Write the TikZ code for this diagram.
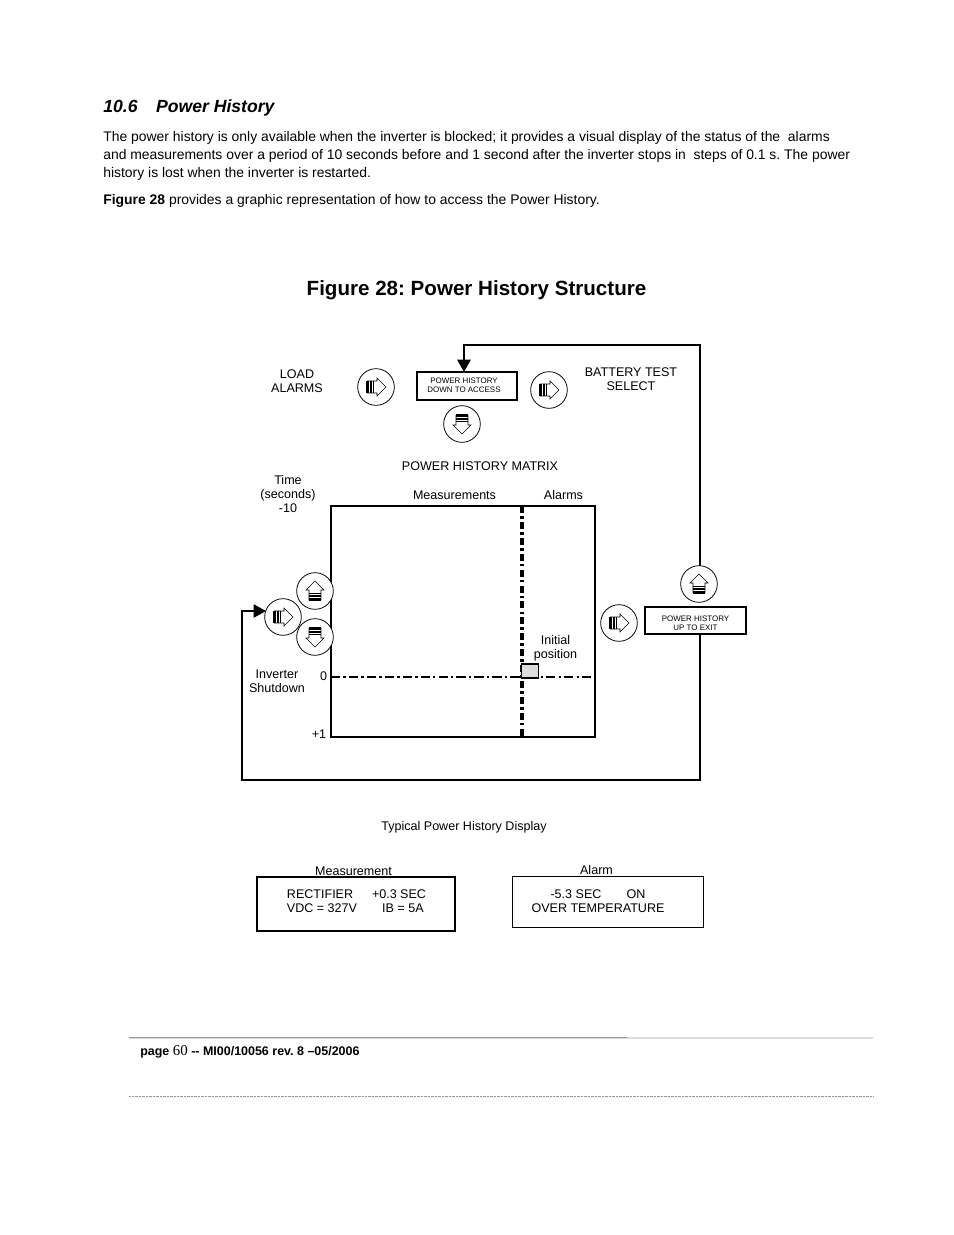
\documentclass[tikz,border=0pt]{standalone}
\usepackage{fontspec}
\setmainfont{Liberation Sans}
\newfontfamily\pagefont{Liberation Serif}
\usetikzlibrary{arrows.meta}
\definecolor{rulegray}{RGB}{150,150,150}
\definecolor{palegray}{RGB}{220,220,220}
\newcommand{\keybtn}[4]{%
  \node[btnring] (#1) at (#2,#3) {};
  \begin{scope}[shift={(#2,#3)},rotate=#4]
    \foreach \stripe in {-9,-7.4,-5.8,-4.2,-2.6}{\draw[line width=.8pt] (\stripe,-6)--(\stripe,6);}
    \draw[line width=.35pt] (-9,-6)--(1,-6)--(1,-9)--(10,0)--(1,9)--(1,6)--(-9,6);
  \end{scope}
}
\tikzset{
  btnring/.style={circle,draw,fill=white,line width=.5pt,minimum size=23.5pt,inner sep=0pt},
  panel/.style={draw,line width=.8pt,fill=white,inner sep=0pt},
  wire/.style={line width=1.1pt},
  tiny/.style={font=\fontsize{5.1}{5.8}\selectfont,align=center},
  lbl/.style={font=\fontsize{8.05}{9}\selectfont,align=center},
  body/.style={anchor=base west,font=\fontsize{8.93}{11}\selectfont,inner sep=0pt}
}
\frenchspacing
\begin{document}
\begin{tikzpicture}[x=.6415pt,y=-.6415pt]
  \useasboundingbox (0,0) rectangle (954,1235);
  % page text
  \node[body,font=\fontsize{11.3}{13}\selectfont\bfseries\itshape] (head) at (103,112) {10.6\hspace{1.05em}Power History};
  \node[body] (para1) at (103,141) {The power history is only available when the inverter is blocked; it provides a visual display of the status of the\ \ alarms};
  \node[body] (para2) at (103,159) {and measurements over a period of 10 seconds before and 1 second after the inverter stops in\ \ steps of 0.1 s. The power};
  \node[body] (para3) at (103,177) {history is lost when the inverter is restarted.};
  \node[body] (para4) at (103,204) {\textbf{Figure 28} provides a graphic representation of how to access the Power History.};
  \node[font=\fontsize{13.2}{16}\selectfont\bfseries] (title) at (476.5,290.5) {Figure 28: Power History Structure};
  % matrix
  \draw[line width=.9pt] (331,506) rectangle (595,737);
  \coordinate (zerol) at (331,677);
  \coordinate (zeror) at (595,677);
  \coordinate (colt) at (522,506);
  \coordinate (colb) at (522,737);
  \draw[line width=.9pt,dash pattern=on 6pt off 2pt on 1.5pt off 2pt] (zerol)--(zeror);
  \draw[line width=2pt,dash pattern=on 4.5pt off 2pt on 1.7pt off 2pt] (colt)--(colb);
  \node[draw,fill=palegray,line width=.8pt,minimum width=10.5pt,minimum height=9pt,inner sep=0pt] (initbox) at (530,671) {};
  % buttons
  \keybtn{loadbtn}{376}{387}{0}
  \keybtn{testbtn}{549}{390}{0}
  \keybtn{downbtn}{462}{424}{-90}
  \keybtn{upexbtn}{699}{584}{90}
  \keybtn{rightbtn}{619}{623}{0}
  \keybtn{linesup}{315}{591}{90}
  \keybtn{linesdn}{315}{637}{-90}
  \keybtn{shutbtn}{283}{617}{0}
  % boxes
  \node[panel,minimum width=64pt,minimum height=18pt] (accessbox) at (467,386) {};
  \node[tiny] (accesstxt) at (464,385.5) {POWER HISTORY\\DOWN TO ACCESS};
  \node[panel,minimum width=64.8pt,minimum height=17.3pt] (exitbox) at (695.5,620.5) {};
  \node[tiny] (exittxt) at (695.5,623.5) {POWER HISTORY\\UP TO EXIT};
  \node[panel,minimum width=127pt,minimum height=34.6pt] (measbox) at (356,904) {};
  \node[lbl,align=left] (meastxt) at (356.5,901) {RECTIFIER\hspace{1.5em}+0.3 SEC\\VDC = 327V\hspace{2em}IB = 5A};
  \node[draw,line width=.5pt,minimum width=122.5pt,minimum height=32.5pt] (alarmbox) at (608,902) {};
  \node[lbl,align=left] (alarmtxt) at (598,901) {\hspace*{12.2pt}-5.3 SEC\hspace{2em}ON\\OVER TEMPERATURE};
  % connectors
  \coordinate (topright) at (700,345);
  \coordinate (topleft) at (464,345);
  \coordinate (accessin) at (464,372);
  \coordinate (botright) at (700,780);
  \coordinate (botleft) at (242,780);
  \coordinate (shutcorner) at (242,611);
  \coordinate (shutin) at (266,611);
  \coordinate (exitout) at (700,634);
  \coordinate (upbtntop) at (700,566);
  \draw[wire,line width=1.6pt,-{Triangle[length=8pt,width=8.5pt]}] (upbtntop)--(topright)--(topleft)--(accessin);
  \draw[wire,-{Triangle[length=8pt,width=8.5pt]}] (exitout)--(botright)--(botleft)--(shutcorner)--(shutin);
  % labels
  \node[lbl] (loadlbl) at (297,381) {LOAD\\ALARMS};
  \node[lbl] (testlbl) at (631,379) {BATTERY TEST\\SELECT};
  \node[lbl] (matrixlbl) at (480,466) {POWER HISTORY MATRIX};
  \node[lbl] (timelbl) at (288,494) {Time\\(seconds)\\-10};
  \node[lbl] (measlbl) at (454.5,495) {Measurements};
  \node[lbl] (alarmslbl) at (563.5,495) {Alarms};
  \node[lbl] (initlbl) at (555.5,648) {Initial\\position};
  \node[lbl] (shutlbl) at (277,681) {Inverter\\Shutdown};
  \node[lbl] (zerolbl) at (323.5,676) {0};
  \node[lbl] (onelbl) at (319,734) {+1};
  \node[lbl] (typlbl) at (464,827) {Typical Power History Display};
  \node[lbl] (meashead) at (353.5,871) {Measurement};
  \node[lbl] (alarmhead) at (596.5,870) {Alarm};
  % footer
  \draw[palegray,line width=1pt] (129,1038)--(873,1038);
  \draw[rulegray,line width=1pt] (197,1037.5)--(627,1037.5);
  \draw[rulegray,line width=.5pt] (129,1037.5)--(197,1037.5);
  \draw[rulegray,line width=.5pt,dash pattern=on .5pt off .4pt] (129,1096)--(873,1096);
  \node[body,font=\fontsize{8}{9}\selectfont\bfseries] (footer) at (140,1055) {page {\pagefont\mdseries\fontsize{9.6}{11}\selectfont 60} -{}- MI00/10056 rev. 8 –05/2006};
\end{tikzpicture}
\end{document}
